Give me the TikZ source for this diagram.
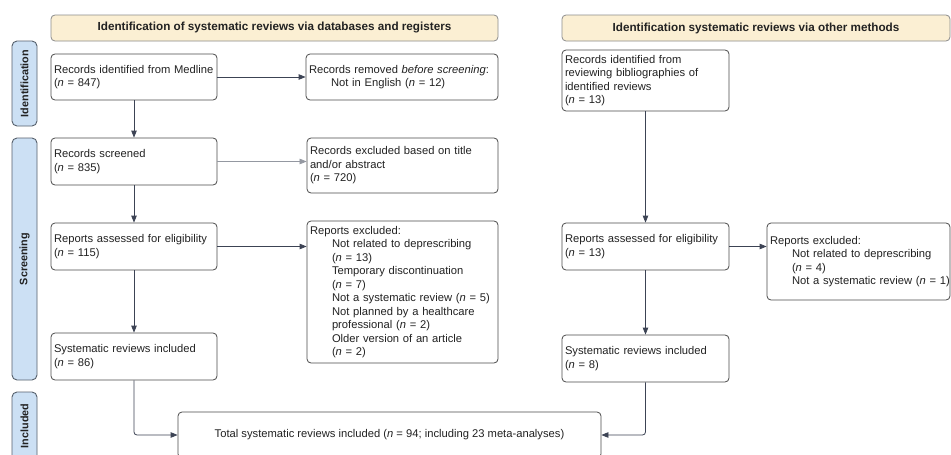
\documentclass[tikz,border=0pt]{standalone}
\usepackage{fontspec}
\setmainfont{Liberation Sans}
\usetikzlibrary{arrows.meta,calc}
\definecolor{boxline}{HTML}{4A4A4A}
\definecolor{arrline}{HTML}{3C4354}
\definecolor{headfill}{HTML}{FBEFD3}
\definecolor{headline}{HTML}{8C8C8C}
\definecolor{sidefill}{HTML}{CCE0F4}
\definecolor{sideline}{HTML}{56606C}
\definecolor{txt}{HTML}{222222}
\newcommand{\myind}{\hspace*{22pt}}
\newcommand{\nn}{\textit{n}}
\tikzset{
  x=1pt, y=-1pt,
  base/.style={draw=boxline, line width=0.8pt, rounded corners=4pt, text=txt,
    font=\fontsize{11.2}{13.5}\selectfont, inner sep=3pt, align=left},
  bx/.style={base, minimum width=#1, text width=#1-6pt},
  head/.style={draw=headline, fill=headfill, line width=0.8pt, rounded corners=4pt,
    font=\bfseries\fontsize{11.7}{14}\selectfont, text=txt, align=center},
  side/.style={draw=sideline, fill=sidefill, line width=0.9pt, rounded corners=5pt,
    minimum width=25pt, inner sep=0pt},
  sidetext/.style={rotate=90, font=\bfseries\fontsize{10.8}{12}\selectfont, text=txt},
  arr/.style={draw=arrline, line width=0.8pt, -{Triangle[length=7pt,width=5.5pt]}},
}
\begin{document}
\begin{tikzpicture}
\clip (0,0) rectangle (951,455);
\fill[white] (0,0) rectangle (951,455);
% headers
\node[head, minimum width=447pt, minimum height=26pt] (h1) at (274.5,28) {Identification of systematic reviews via databases and registers};
\node[head, minimum width=388pt, minimum height=26pt] (h2) at (756,28) {Identification systematic reviews via other methods};
% side labels
\node[side, minimum height=85pt] (sid) at (24.5,83.5) {};
\node[sidetext] (sidt) at (sid) {Identification};
\node[side, minimum height=242pt] (sscr) at (24.5,259) {};
\node[sidetext] (sscrt) at (sscr) {Screening};
\node[side, minimum height=80pt] (sinc) at (24.5,432) {};
\node[sidetext] (sinct) at (24.5,426) {Included};
% left column
\node[bx=166pt, minimum height=46pt] (medline) at (134,77) {\mbox{Records identified from Medline}\\(\nn{} = 847)};
\node[bx=192pt, minimum height=46pt] (removed) at (402,77) {\mbox{Records removed \textit{before screening}:}\\\myind \mbox{Not in English (\nn{} = 12)}};
\node[bx=166pt, minimum height=47pt] (screened) at (134,161.5) {Records screened\\(\nn{} = 835)};
\node[bx=191pt, minimum height=55pt] (excl1) at (402.5,165.5) {\mbox{Records excluded based on title}\\and/or abstract\\(\nn{} = 720)};
\node[bx=166pt, minimum height=47pt] (rep) at (134,246.5) {\mbox{Reports assessed for eligibility}\\(\nn{} = 115)};
\node[bx=191pt, minimum height=142pt] (excl2) at (402.5,292) {Reports excluded:\\
\myind \mbox{Not related to deprescribing}\\
\myind (\nn{} = 13)\\
\myind \mbox{Temporary discontinuation}\\
\myind (\nn{} = 7)\\
\myind \mbox{Not a systematic review (\nn{} = 5)}\\
\myind \mbox{Not planned by a healthcare}\\
\myind \mbox{professional (\nn{} = 2)}\\
\myind \mbox{Older version of an article}\\
\myind (\nn{} = 2)};
\node[bx=166pt, minimum height=47pt] (sr) at (134,356.5) {\mbox{Systematic reviews included}\\(\nn{} = 86)};
% right column
\node[bx=167pt, minimum height=61pt] (bib) at (645.5,80.5) {\mbox{Records identified from}\\\mbox{reviewing bibliographies of}\\identified reviews\\(\nn{} = 13)};
\node[bx=167pt, minimum height=47pt] (rep2) at (645.5,246.5) {\mbox{Reports assessed for eligibility}\\(\nn{} = 13)};
\node[bx=183pt, minimum height=77pt] (excl3) at (858.5,261.5) {Reports excluded:\\
\myind \mbox{Not related to deprescribing}\\
\myind (\nn{} = 4)\\
\myind \mbox{Not a systematic review (\nn{} = 1)}};
\node[bx=167pt, minimum height=47pt] (sr2) at (645.5,358.5) {\mbox{Systematic reviews included}\\(\nn{} = 8)};
% total
\node[base, minimum width=423pt, minimum height=46pt, align=center] (total) at (389.5,435) {Total systematic reviews included (\nn{} = 94; including 23 meta-analyses)};
% connectors
\draw[arr] (medline) -- (screened);
\draw[arr] (medline) -- (removed);
\draw[arr, draw=arrline!55, line width=0.6pt] (screened.east) -- (screened.east -| excl1.west);
\draw[arr] (screened) -- (rep);
\draw[arr] (rep.east) -- (rep.east -| excl2.west);
\draw[arr] (rep) -- (sr);
\draw[arr, rounded corners=3pt] (sr.south) |- (total.west);
\draw[arr] (bib) -- (rep2);
\draw[arr] (rep2.east) -- (rep2.east -| excl3.west);
\draw[arr] (rep2) -- (sr2);
\draw[arr, rounded corners=3pt] (sr2.south) |- (total.east);
\end{tikzpicture}
\end{document}
